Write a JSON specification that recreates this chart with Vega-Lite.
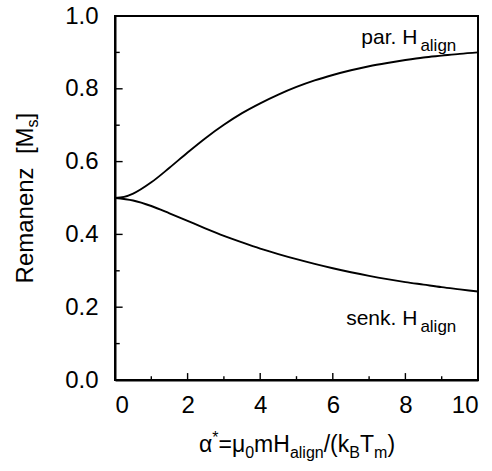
{
  "$schema": "https://vega.github.io/schema/vega-lite/v6.json",
  "autosize": {"type": "none"},
  "width": 363,
  "height": 364,
  "padding": {"left": 115, "top": 16, "right": 14, "bottom": 91},
  "background": "white",
  "config": {
    "view": {"stroke": "black", "strokeWidth": 2},
    "axis": {
      "zindex": 2, "domainColor": "black", "domainWidth": 2, "tickColor": "black", "tickOpacity": 0,
      "labelFont": "Liberation Sans", "labelFontSize": 24, "labelColor": "black",
      "grid": false, "title": null
    },
    "text": {"font": "Liberation Sans", "color": "black"}
  },
  "resolve": {"axis": {"x": "independent", "y": "independent"}},
  "layer": [
    {
      "data": {"values": [
        {"x": 0, "y": 0.5, "s": "par"}, {"x": 0.25, "y": 0.503, "s": "par"}, {"x": 0.5, "y": 0.512, "s": "par"},
        {"x": 1, "y": 0.543, "s": "par"}, {"x": 1.5, "y": 0.583, "s": "par"},
        {"x": 2, "y": 0.625, "s": "par"}, {"x": 2.5, "y": 0.665, "s": "par"}, {"x": 3, "y": 0.701, "s": "par"},
        {"x": 3.5, "y": 0.733, "s": "par"}, {"x": 4, "y": 0.76, "s": "par"}, {"x": 4.5, "y": 0.784, "s": "par"},
        {"x": 5, "y": 0.805, "s": "par"}, {"x": 5.5, "y": 0.823, "s": "par"}, {"x": 6, "y": 0.838, "s": "par"},
        {"x": 6.5, "y": 0.851, "s": "par"}, {"x": 7, "y": 0.862, "s": "par"}, {"x": 7.5, "y": 0.871, "s": "par"},
        {"x": 8, "y": 0.879, "s": "par"}, {"x": 8.5, "y": 0.886, "s": "par"}, {"x": 9, "y": 0.891, "s": "par"},
        {"x": 9.5, "y": 0.896, "s": "par"}, {"x": 10, "y": 0.9, "s": "par"},
        {"x": 0, "y": 0.5, "s": "senk"}, {"x": 0.5, "y": 0.493, "s": "senk"}, {"x": 1, "y": 0.478, "s": "senk"},
        {"x": 1.5, "y": 0.458, "s": "senk"}, {"x": 2, "y": 0.437, "s": "senk"}, {"x": 2.5, "y": 0.416, "s": "senk"},
        {"x": 3, "y": 0.396, "s": "senk"}, {"x": 3.5, "y": 0.378, "s": "senk"}, {"x": 4, "y": 0.361, "s": "senk"},
        {"x": 4.5, "y": 0.346, "s": "senk"}, {"x": 5, "y": 0.332, "s": "senk"}, {"x": 5.5, "y": 0.319, "s": "senk"},
        {"x": 6, "y": 0.307, "s": "senk"}, {"x": 6.5, "y": 0.296, "s": "senk"}, {"x": 7, "y": 0.286, "s": "senk"},
        {"x": 7.5, "y": 0.277, "s": "senk"}, {"x": 8, "y": 0.269, "s": "senk"}, {"x": 8.5, "y": 0.262, "s": "senk"},
        {"x": 9, "y": 0.255, "s": "senk"}, {"x": 9.5, "y": 0.249, "s": "senk"}, {"x": 10, "y": 0.243, "s": "senk"}
      ]},
      "mark": {"type": "line", "color": "black", "strokeWidth": 1.9, "interpolate": "monotone"},
      "encoding": {
        "x": {"field": "x", "type": "quantitative", "scale": {"domain": [0, 10], "nice": false, "zero": false},
          "axis": {"orient": "bottom", "values": [0, 2, 4, 6, 8, 10], "tickSize": -7, "labelPadding": 20}},
        "y": {"field": "y", "type": "quantitative", "scale": {"domain": [0, 1], "nice": false, "zero": false},
          "axis": {"orient": "left", "values": [0, 0.2, 0.4, 0.6, 0.8, 1.0], "format": ".1f", "tickSize": -7, "labelPadding": 24}},
        "detail": {"field": "s"}
      }
    },
    {
      "data": {"values": [{"v": 2}, {"v": 4}, {"v": 6}, {"v": 8}]},
      "mark": {"type": "rule", "color": "black", "strokeWidth": 1.4},
      "encoding": {
        "x": {"field": "v", "type": "quantitative", "axis": null},
        "y": {"datum": 0, "axis": null},
        "y2": {"datum": 0.019}
      }
    },
    {
      "data": {"values": [{"v": 1}, {"v": 3}, {"v": 5}, {"v": 7}, {"v": 9}]},
      "mark": {"type": "rule", "color": "black", "strokeWidth": 1.4},
      "encoding": {
        "x": {"field": "v", "type": "quantitative", "axis": null},
        "y": {"datum": 0, "axis": null},
        "y2": {"datum": 0.0105}
      }
    },
    {
      "data": {"values": [{"v": 0.2}, {"v": 0.4}, {"v": 0.6}, {"v": 0.8}]},
      "mark": {"type": "rule", "color": "black", "strokeWidth": 1.4},
      "encoding": {
        "y": {"field": "v", "type": "quantitative", "axis": null},
        "x": {"datum": 0, "axis": null},
        "x2": {"datum": 0.21}
      }
    },
    {
      "data": {"values": [{"v": 0.1}, {"v": 0.3}, {"v": 0.5}, {"v": 0.7}, {"v": 0.9}]},
      "mark": {"type": "rule", "color": "black", "strokeWidth": 1.4},
      "encoding": {
        "y": {"field": "v", "type": "quantitative", "axis": null},
        "x": {"datum": 0, "axis": null},
        "x2": {"datum": 0.13}
      }
    },
    {
      "data": {"values": [
        {"x": 8.33, "y": 0.924, "t": "par. H"},
        {"x": 8.33, "y": 0.15, "t": "senk. H"}
      ]},
      "mark": {"type": "text", "align": "right", "baseline": "alphabetic", "fontSize": 21},
      "encoding": {"x": {"field": "x", "type": "quantitative", "axis": null}, "y": {"field": "y", "type": "quantitative", "axis": null}, "text": {"field": "t"}}
    },
    {
      "data": {"values": [
        {"x": 8.33, "y": 0.924, "t": "align"},
        {"x": 8.33, "y": 0.15, "t": "align"}
      ]},
      "mark": {"type": "text", "align": "left", "baseline": "alphabetic", "fontSize": 17, "dx": 3, "dy": 7},
      "encoding": {"x": {"field": "x", "type": "quantitative", "axis": null}, "y": {"field": "y", "type": "quantitative", "axis": null}, "text": {"field": "t"}}
    },
    {
      "data": {"values": [
        {"x": 2.314, "y": -0.199, "t": "α"},
        {"x": 2.851, "y": -0.199, "t": "=μ"},
        {"x": 3.832, "y": -0.199, "t": "mH"},
        {"x": 5.749, "y": -0.199, "t": "/(k"},
        {"x": 6.749, "y": -0.199, "t": "T"},
        {"x": 7.504, "y": -0.199, "t": ")"}
      ]},
      "mark": {"type": "text", "align": "left", "baseline": "alphabetic", "fontSize": 23},
      "encoding": {"x": {"field": "x", "type": "quantitative", "axis": null}, "y": {"field": "y", "type": "quantitative", "axis": null}, "text": {"field": "t"}}
    },
    {
      "data": {"values": [
        {"x": 3.587, "y": -0.199, "t": "0"},
        {"x": 4.818, "y": -0.199, "t": "align"},
        {"x": 6.455, "y": -0.199, "t": "B"},
        {"x": 7.138, "y": -0.199, "t": "m"}
      ]},
      "mark": {"type": "text", "align": "left", "baseline": "alphabetic", "fontSize": 16, "dy": 6},
      "encoding": {"x": {"field": "x", "type": "quantitative", "axis": null}, "y": {"field": "y", "type": "quantitative", "axis": null}, "text": {"field": "t"}}
    },
    {
      "data": {"values": [
        {"x": 2.68, "y": -0.199, "t": "*"}
      ]},
      "mark": {"type": "text", "align": "left", "baseline": "alphabetic", "fontSize": 16, "dy": -9},
      "encoding": {"x": {"field": "x", "type": "quantitative", "axis": null}, "y": {"field": "y", "type": "quantitative", "axis": null}, "text": {"field": "t"}}
    },
    {
      "data": {"values": [
        {"x": -2.26, "y": 0.694, "t": "Remanenz\u00a0\u00a0[M"}
      ]},
      "mark": {"type": "text", "align": "right", "baseline": "alphabetic", "fontSize": 24, "angle": 270},
      "encoding": {"x": {"field": "x", "type": "quantitative", "axis": null}, "y": {"field": "y", "type": "quantitative", "axis": null}, "text": {"field": "t"}}
    },
    {
      "data": {"values": [
        {"x": -2.26, "y": 0.694, "t": "s"}
      ]},
      "mark": {"type": "text", "align": "left", "baseline": "alphabetic", "fontSize": 16, "angle": 270, "dy": 5},
      "encoding": {"x": {"field": "x", "type": "quantitative", "axis": null}, "y": {"field": "y", "type": "quantitative", "axis": null}, "text": {"field": "t"}}
    },
    {
      "data": {"values": [
        {"x": -2.26, "y": 0.716, "t": "]"}
      ]},
      "mark": {"type": "text", "align": "left", "baseline": "alphabetic", "fontSize": 24, "angle": 270},
      "encoding": {"x": {"field": "x", "type": "quantitative", "axis": null}, "y": {"field": "y", "type": "quantitative", "axis": null}, "text": {"field": "t"}}
    }
  ]
}
